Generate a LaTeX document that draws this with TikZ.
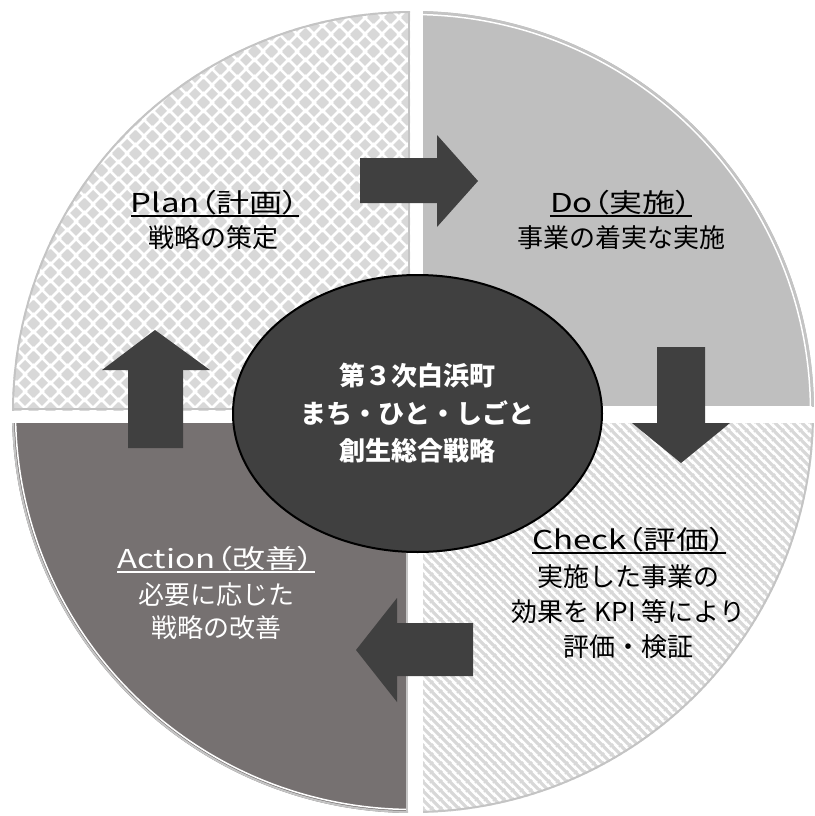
\documentclass[tikz,border=0pt]{standalone}
\usepackage{fontspec}
\setmainfont{Noto Sans CJK JP}
\newfontfamily\widefont[FakeStretch=1.27, RawFeature=+palt]{Noto Sans CJK JP}
\usetikzlibrary{shapes.geometric, patterns}

\definecolor{lightfill}{RGB}{191,191,191}
\definecolor{darkfill}{RGB}{118,113,113}
\definecolor{coal}{RGB}{64,64,64}
\definecolor{hatchgray}{RGB}{216,216,216}
\definecolor{rimgray}{RGB}{196,196,196}

% diamond checker for the Plan quarter
\pgfdeclarepatternformonly{diamondcheck}{\pgfqpoint{0pt}{0pt}}{\pgfqpoint{17pt}{17pt}}{\pgfqpoint{17pt}{17pt}}{%
  \foreach \px/\py in {8.5/8.5, 0/0, 17/0, 0/17, 17/17}{%
    \pgfpathmoveto{\pgfpoint{\px pt}{\py pt - 6.3pt}}%
    \pgfpathlineto{\pgfpoint{\px pt + 6.3pt}{\py pt}}%
    \pgfpathlineto{\pgfpoint{\px pt}{\py pt + 6.3pt}}%
    \pgfpathlineto{\pgfpoint{\px pt - 6.3pt}{\py pt}}%
    \pgfpathclose}%
  \pgfusepath{fill}}

% diagonal stripes for the Check quarter
\pgfdeclarepatternformonly{hatchdown}{\pgfqpoint{0pt}{0pt}}{\pgfqpoint{9pt}{9pt}}{\pgfqpoint{9pt}{9pt}}{%
  \pgfsetlinewidth{3.4pt}%
  \pgfpathmoveto{\pgfqpoint{-1pt}{10pt}}\pgfpathlineto{\pgfqpoint{10pt}{-1pt}}%
  \pgfpathmoveto{\pgfqpoint{-1pt}{1pt}}\pgfpathlineto{\pgfqpoint{1pt}{-1pt}}%
  \pgfpathmoveto{\pgfqpoint{8pt}{10pt}}\pgfpathlineto{\pgfqpoint{10pt}{8pt}}%
  \pgfusepath{stroke}}

\tikzset{
  rim/.style={draw=rimgray, line width=2pt},
  flow/.style={fill=coal},
  phase/.style={anchor=base, inner sep=0pt, font=\widefont\fontsize{26}{32}\selectfont},
  note/.style={anchor=base, inner sep=0pt, font=\fontsize{26}{32}\selectfont},
  uline/.style={line width=2.5pt},
}

\begin{document}
\begin{tikzpicture}[x=1pt, y=-1pt]
\useasboundingbox (0,0) rectangle (814,816);
% Disc parameters
\def\cx{413} % x of the disc centre
\def\cy{412} % y of the disc centre
\def\rad{401} % disc radius
\def\inrad{397.5} % white inner ring

% Plan quarter (top left)
\begin{scope}
  \clip (0,0) rectangle (410,410);
  \clip (\cx,\cy) circle (\rad);
  \fill[pattern=diamondcheck, pattern color=hatchgray] (0,0) rectangle (410,410);
  \draw[rim, line width=4pt] (\cx,\cy) circle (\rad);
  \draw[rim] (409,0) -- (409,409) -- (0,409);
\end{scope}

% Do quarter (top right)
\begin{scope}
  \clip (423,0) rectangle (814,406);
  \clip (\cx,\cy) circle (\rad);
  \fill[lightfill] (423,0) rectangle (814,406);
  \draw[rim, line width=4pt] (\cx,\cy) circle (\rad);
  \draw[white, line width=1.5pt] (\cx,\cy) circle (\inrad);
\end{scope}

% Action quarter (bottom left)
\begin{scope}
  \clip (0,423) rectangle (408,816);
  \clip (\cx,\cy) circle (\rad);
  \fill[darkfill] (0,423) rectangle (408,816);
  \draw[rim, line width=4pt] (\cx,\cy) circle (\rad);
  \draw[white, line width=1.5pt] (\cx,\cy) circle (\inrad);
  \draw[rim] (407,423) -- (407,816);
\end{scope}

% Check quarter (bottom right)
\begin{scope}
  \clip (423,423) rectangle (814,816);
  \clip (\cx,\cy) circle (\rad);
  \fill[pattern=hatchdown, pattern color=hatchgray] (423,423) rectangle (814,816);
  \draw[rim, line width=4pt] (\cx,\cy) circle (\rad);
\end{scope}

% Block arrows between the quarters
\fill[flow] (360,158) -- (437,158) -- (437,135) -- (478,181) -- (437,227) -- (437,203) -- (360,203) -- cycle;
\fill[flow] (657,347) -- (705,347) -- (705,423) -- (730,423) -- (681,463) -- (632,423) -- (657,423) -- cycle;
\fill[flow] (473,623) -- (473,676) -- (397,676) -- (397,702) -- (356,650) -- (397,598) -- (397,623) -- cycle;
\fill[flow] (128,448) -- (128,370) -- (102,370) -- (155,330) -- (210,370) -- (183,370) -- (183,448) -- cycle;

% Centre ellipse
\node[ellipse, fill=coal, draw=black, line width=2pt, minimum width=369pt, minimum height=277pt,
      text=white, align=center, font=\bfseries\fontsize{26}{37.5}\selectfont] (core) at (417.5,413.5)
  {第３次白浜町\\まち・ひと・しごと\\創生総合戦略};

% Plan
\node[phase] (plan) at (215,212) {Plan（計画）};
\draw[uline] ([yshift=-4pt]plan.base west) -- ([yshift=-4pt]plan.base east);
\node[note] (plannote) at (213,247) {戦略の策定};

% Do
\node[phase] (do) at (621,212) {Do（実施）};
\draw[uline] ([yshift=-4pt]do.base west) -- ([yshift=-4pt]do.base east);
\node[note] (donote) at (621,247) {事業の着実な実施};

% Check
\node[phase] (check) at (629,549) {Check（評価）};
\draw[uline] ([yshift=-4pt]check.base west) -- ([yshift=-4pt]check.base east);
\node[note] (checkone) at (628,586) {実施した事業の};
\node[note] (checktwo) at (628,621) {効果を KPI 等により};
\node[note] (checkthree) at (628,656) {評価・検証};

% Action
\node[phase, text=white] (action) at (216,568) {Action（改善）};
\draw[uline, white] ([yshift=-4pt]action.base west) -- ([yshift=-4pt]action.base east);
\node[note, text=white] (actionone) at (216,604) {必要に応じた};
\node[note, text=white] (actiontwo) at (216,637) {戦略の改善};
\end{tikzpicture}
\end{document}
